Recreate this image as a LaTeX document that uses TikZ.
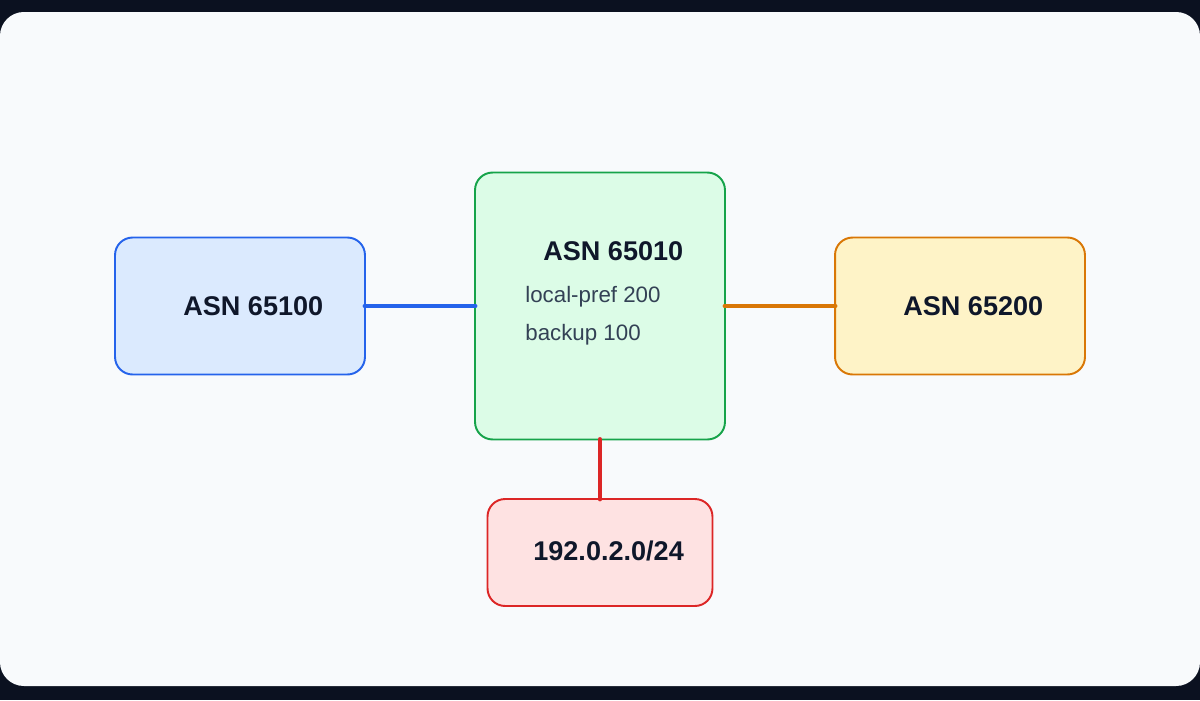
\documentclass[tikz,border=0pt]{standalone}
\usepackage{fontspec}
\setmainfont{Liberation Sans}
\usetikzlibrary{positioning,backgrounds}
\definecolor{night}{HTML}{0B1120}
\definecolor{panel}{HTML}{F8FAFC}
\definecolor{ink}{HTML}{0F172A}
\definecolor{slate}{HTML}{334155}
\definecolor{blueline}{HTML}{2563EB}
\definecolor{bluefill}{HTML}{DBEAFE}
\definecolor{greenline}{HTML}{16A34A}
\definecolor{greenfill}{HTML}{DCFCE7}
\definecolor{orangeline}{HTML}{D97706}
\definecolor{orangefill}{HTML}{FEF3C7}
\definecolor{redline}{HTML}{DC2626}
\definecolor{redfill}{HTML}{FEE2E2}
\tikzset{
  asbox/.style={draw, line width=1.1pt, rounded corners=10pt, inner sep=0pt, outer sep=0pt},
  astitle/.style={font=\fontsize{15.4}{18}\selectfont\bfseries, text=ink, inner sep=0pt, anchor=base west},
  asnote/.style={font=\fontsize{12.7}{15}\selectfont, text=slate, inner sep=0pt, anchor=base west},
  aslink/.style={line width=2.8pt, line cap=round}
}
\begin{document}
\begin{tikzpicture}[x=0.02cm,y=-0.02cm]
  \fill[night] (0,0) rectangle (1200,700);
  \fill[panel, rounded corners=13.6pt] (0,12) rectangle (1200,686);
  % boxes
  \node (Peer) [asbox, draw=blueline, fill=bluefill, minimum width=5cm, minimum height=2.74cm] at (240,306) {};
  \node (Core) [asbox, draw=greenline, fill=greenfill, minimum width=5cm, minimum height=5.34cm] at (600,306) {};
  \node (Upstream) [asbox, draw=orangeline, fill=orangefill, minimum width=5cm, minimum height=2.74cm] at (960,306) {};
  \node (Prefix) [asbox, draw=redline, fill=redfill, minimum width=4.5cm, minimum height=2.14cm] at (600,552.5) {};
  % texts
  \node (PeerText) [astitle] at (183,315) {ASN 65100};
  \node (CoreText) [astitle] at (543,260) {ASN 65010};
  \node (PrefNote) [asnote] at (525,302.5) {local-pref 200};
  \node (BackupNote) [asnote] at (525,340) {backup 100};
  \node (UpstreamText) [astitle] at (903,315) {ASN 65200};
  \node (PrefixText) [astitle] at (533,560.5) {192.0.2.0/24};
  % links
  \draw[aslink, blueline] (Peer.east) -- (Core.west);
  \draw[aslink, orangeline] (Core.east) -- (Upstream.west);
  \draw[aslink, redline] (Core.south) -- (Prefix.north);
\end{tikzpicture}
\end{document}
